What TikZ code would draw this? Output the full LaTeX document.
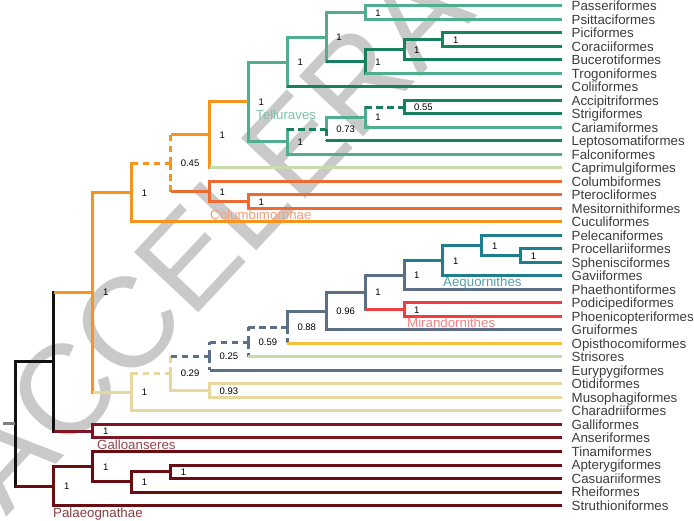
\documentclass[tikz,border=0pt]{standalone}
\usepackage{fontspec}
\setmainfont{Liberation Sans}
\usetikzlibrary{calc}
\definecolor{tL}{HTML}{4FAE8E}
\definecolor{tD}{HTML}{17805C}
\definecolor{orC}{HTML}{F7941E}
\definecolor{roC}{HTML}{EB6B32}
\definecolor{cgC}{HTML}{C8DBAA}
\definecolor{tbC}{HTML}{1E7E8E}
\definecolor{slC}{HTML}{5B6F86}
\definecolor{rdC}{HTML}{EE3E3E}
\definecolor{ylC}{HTML}{F6C143}
\definecolor{tnC}{HTML}{E8D8A0}
\definecolor{gaC}{HTML}{7E1522}
\definecolor{paC}{HTML}{6A0C12}
\definecolor{bkC}{HTML}{111111}
\definecolor{tipgray}{HTML}{3C3C3C}
\definecolor{wmC}{HTML}{C9C9C9}
\newcommand\hb[3]{\draw[hl,#1] (#2 |- #3) -- (#3);}
\newcommand\vb[3]{\draw[vl,#1] (#2) -- (#2 |- #3);}
\newcommand\sv[2]{\node[sup] (s#1) at ($(#1)+(10,3.4)$) {#2};}
\begin{document}
\begin{tikzpicture}[x=1pt,y=-1pt,
  hl/.style={line width=3pt},
  vl/.style={line width=3pt, line cap=rect},
  dsh/.style={dash pattern=on 6.5pt off 4.5pt, line cap=butt},
  tip/.style={anchor=base west, font=\fontsize{13.3}{14}\selectfont, text=tipgray, inner sep=0pt},
  sup/.style={anchor=base west, font=\fontsize{9.5}{10}\selectfont, text=black, inner sep=0pt},
  clade/.style={anchor=base west, font=\fontsize{13.3}{14}\selectfont, inner sep=0pt}]
\useasboundingbox (0,0) rectangle (694,521);
% watermark
\begin{scope}
\clip (0,0) rectangle (694,521);
\node[anchor=base west, rotate=46.8, inner sep=0pt, text=wmC, font=\fontsize{128}{128}\selectfont] (wm) at (6,518) {ACCELERA};
\end{scope}
% tips
\foreach \n [count=\i from 0] in {Passeriformes,Psittaciformes,Piciformes,Coraciiformes,Bucerotiformes,Trogoniformes,Coliiformes,Accipitriformes,Strigiformes,Cariamiformes,Leptosomatiformes,Falconiformes,Caprimulgiformes,Columbiformes,Pterocliformes,Mesitornithiformes,Cuculiformes,Pelecaniformes,Procellariiformes,Sphenisciformes,Gaviiformes,Phaethontiformes,Podicipediformes,Phoenicopteriformes,Gruiformes,Opisthocomiformes,Strisores,Eurypygiformes,Otidiformes,Musophagiformes,Charadriiformes,Galliformes,Anseriformes,Tinamiformes,Apterygiformes,Casuariiformes,Rheiformes,Struthioniformes}{
  \coordinate (e\i) at (562,{6+13.5*\i});
  \node[tip] (l\i) at (571.5,{10.7+13.5*\i}) {\n};
}
% internal nodes
\coordinate (nA) at (365.1,12.75);
\coordinate (nB) at (442.9,39.75);
\coordinate (nC) at (404.0,49.875);
\coordinate (nD) at (365.1,61.6875);
\coordinate (nE) at (326.2,37.22);
\coordinate (nF) at (287.3,62.11);
\coordinate (nG) at (404.0,107.25);
\coordinate (nH) at (365.1,117.375);
\coordinate (nI) at (326.2,129.19);
\coordinate (nJ) at (287.3,141.84);
\coordinate (nK) at (248.4,101.98);
\coordinate (nL) at (209.5,134.99);
\coordinate (nM) at (248.4,201.75);
\coordinate (nN) at (209.5,191.625);
\coordinate (nO) at (170.6,163.31);
\coordinate (nP) at (131.7,192.65);
\coordinate (nQ) at (520.7,255.75);
\coordinate (nR) at (481.8,245.625);
\coordinate (nS) at (442.9,260.81);
\coordinate (nT) at (404.0,275.16);
\coordinate (nU) at (404.0,309.75);
\coordinate (nV) at (365.1,292.45);
\coordinate (nW) at (326.2,311.23);
\coordinate (nX) at (287.3,327.36);
\coordinate (nY) at (248.4,342.18);
\coordinate (nZ) at (209.5,356.34);
\coordinate (nAA) at (209.5,390.75);
\coordinate (nAB) at (170.6,373.55);
\coordinate (nAC) at (131.7,392.27);
\coordinate (nAD) at (92.8,292.46);
\coordinate (nAE) at (92.8,431.25);
\coordinate (nAF) at (53.9,361.86);
\coordinate (nAG) at (170.6,471.75);
\coordinate (nAH) at (131.7,481.875);
\coordinate (nAI) at (92.8,466.69);
\coordinate (nAJ) at (53.9,486.09);
\coordinate (nAK) at (15,423.98);
\coordinate (rs) at (3,423.98);
% Telluraves
\vb{tL}{nA}{e0} \vb{tL}{nA}{e1} \hb{tL}{nA}{e0} \hb{tL}{nA}{e1}
\vb{tD}{nB}{e2} \vb{tD}{nB}{e3} \hb{tD}{nB}{e2} \hb{tD}{nB}{e3}
\vb{tD}{nC}{nB} \vb{tD}{nC}{e4} \hb{tD}{nC}{nB} \hb{tD}{nC}{e4}
\vb{tD}{nD}{nC} \vb{tD}{nD}{e5} \hb{tD}{nD}{nC} \hb{tL}{nD}{e5}
\vb{tL}{nE}{nA} \vb{tL}{nE}{nD} \hb{tL}{nE}{nA} \hb{tD}{nE}{nD}
\vb{tL}{nF}{nE} \vb{tL}{nF}{e6} \hb{tL}{nF}{nE} \hb{tD}{nF}{e6}
\vb{tD}{nG}{e7} \vb{tD}{nG}{e8} \hb{tD}{nG}{e7} \hb{tD}{nG}{e8}
\vb{tL}{nH}{nG} \vb{tL}{nH}{e9} \hb{tD,dsh}{nH}{nG} \hb{tL}{nH}{e9}
\vb{tL}{nI}{nH} \vb{tD,dsh}{nI}{e10} \hb{tL}{nI}{nH} \hb{tD}{nI}{e10}
\vb{tL}{nJ}{nI} \vb{tL}{nJ}{e11} \hb{tD,dsh}{nJ}{nI} \hb{tL}{nJ}{e11}
\vb{tL}{nK}{nF} \vb{tL}{nK}{nJ} \hb{tL}{nK}{nF} \hb{tL}{nK}{nJ}
\vb{orC}{nL}{nK} \vb{orC}{nL}{e12} \hb{orC}{nL}{nK} \hb{cgC}{nL}{e12}
% Columbimorphae
\vb{roC}{nM}{e14} \vb{roC}{nM}{e15} \hb{roC}{nM}{e14} \hb{roC}{nM}{e15}
\vb{roC}{nN}{e13} \vb{roC}{nN}{nM} \hb{roC}{nN}{e13} \hb{roC}{nN}{nM}
\vb{orC,dsh}{nO}{nL} \vb{orC,dsh}{nO}{nN} \hb{orC}{nO}{nL} \hb{roC}{nO}{nN}
\vb{orC}{nP}{nO} \vb{orC}{nP}{e16} \hb{orC,dsh}{nP}{nO} \hb{orC}{nP}{e16}
% lower Neoaves
\vb{tbC}{nQ}{e18} \vb{tbC}{nQ}{e19} \hb{tbC}{nQ}{e18} \hb{tbC}{nQ}{e19}
\vb{tbC}{nR}{e17} \vb{tbC}{nR}{nQ} \hb{tbC}{nR}{e17} \hb{tbC}{nR}{nQ}
\vb{tbC}{nS}{nR} \vb{tbC}{nS}{e20} \hb{tbC}{nS}{nR} \hb{tbC}{nS}{e20}
\vb{slC}{nT}{nS} \vb{slC}{nT}{e21} \hb{tbC}{nT}{nS} \hb{slC}{nT}{e21}
\vb{rdC}{nU}{e22} \vb{rdC}{nU}{e23} \hb{rdC}{nU}{e22} \hb{rdC}{nU}{e23}
\vb{slC}{nV}{nT} \vb{slC}{nV}{nU} \hb{slC}{nV}{nT} \hb{rdC}{nV}{nU}
\vb{slC}{nW}{nV} \vb{slC}{nW}{e24} \hb{slC}{nW}{nV} \hb{slC}{nW}{e24}
\vb{slC}{nX}{nW} \vb{slC,dsh}{nX}{e25} \hb{slC}{nX}{nW} \hb{ylC}{nX}{e25}
\vb{slC,dsh}{nY}{nX} \vb{slC,dsh}{nY}{e26} \hb{slC,dsh}{nY}{nX} \hb{cgC}{nY}{e26}
\vb{slC,dsh}{nZ}{nY} \vb{slC,dsh}{nZ}{e27} \hb{slC,dsh}{nZ}{nY} \hb{slC}{nZ}{e27}
\vb{tnC}{nAA}{e28} \vb{tnC}{nAA}{e29} \hb{tnC}{nAA}{e28} \hb{tnC}{nAA}{e29}
\vb{tnC,dsh}{nAB}{nZ} \vb{tnC}{nAB}{nAA} \hb{slC,dsh}{nAB}{nZ} \hb{tnC}{nAB}{nAA}
\vb{tnC}{nAC}{nAB} \vb{tnC}{nAC}{e30} \hb{tnC,dsh}{nAC}{nAB} \hb{tnC}{nAC}{e30}
\vb{orC}{nAD}{nP} \vb{orC}{nAD}{nAC} \hb{orC}{nAD}{nP} \hb{tnC}{nAD}{nAC}
% Galloanserae
\vb{gaC}{nAE}{e31} \vb{gaC}{nAE}{e32} \hb{gaC}{nAE}{e31} \hb{gaC}{nAE}{e32}
\vb{bkC}{nAF}{nAD} \vb{bkC}{nAF}{nAE} \hb{orC}{nAF}{nAD} \hb{gaC}{nAF}{nAE}
% Palaeognathae
\vb{paC}{nAG}{e34} \vb{paC}{nAG}{e35} \hb{paC}{nAG}{e34} \hb{paC}{nAG}{e35}
\vb{paC}{nAH}{nAG} \vb{paC}{nAH}{e36} \hb{paC}{nAH}{nAG} \hb{paC}{nAH}{e36}
\vb{paC}{nAI}{e33} \vb{paC}{nAI}{nAH} \hb{paC}{nAI}{e33} \hb{paC}{nAI}{nAH}
\vb{paC}{nAJ}{nAI} \vb{paC}{nAJ}{e37} \hb{paC}{nAJ}{nAI} \hb{paC}{nAJ}{e37}
% root
\vb{bkC}{nAK}{nAF} \vb{bkC}{nAK}{nAJ} \hb{bkC}{nAK}{nAF} \hb{paC}{nAK}{nAJ}
\draw[hl,gray] (rs) -- (nAK);
% support values
\sv{nA}{1} \sv{nB}{1} \sv{nC}{1} \sv{nD}{1} \sv{nE}{1} \sv{nF}{1}
\sv{nG}{0.55} \sv{nH}{1} \sv{nI}{0.73} \sv{nJ}{1} \sv{nK}{1} \sv{nL}{1}
\sv{nM}{1} \sv{nN}{1} \sv{nO}{0.45} \sv{nP}{1}
\sv{nQ}{1} \sv{nR}{1} \sv{nS}{1} \sv{nT}{1} \sv{nU}{1} \sv{nV}{1}
\sv{nW}{0.96} \sv{nX}{0.88} \sv{nY}{0.59} \sv{nZ}{0.25} \sv{nAA}{0.93} \sv{nAB}{0.29}
\sv{nAC}{1} \sv{nAD}{1} \sv{nAE}{1} \sv{nAG}{1} \sv{nAH}{1} \sv{nAI}{1} \sv{nAJ}{1}
% clade labels
\node[clade, text=tL!75!white] (cTel) at (256,119.7) {Telluraves};
\node[clade, text=roC!65!white] (cCol) at (210,219.7) {Columbimorphae};
\node[clade, text=tbC!75!white] (cAeq) at (443,286.7) {Aequornithes};
\node[clade, text=rdC!65!white] (cMir) at (407,327.7) {Mirandornithes};
\node[clade, text=gaC!80!white] (cGal) at (97,449.7) {Galloanseres};
\node[clade, text=paC!80!white] (cPal) at (53,517.7) {Palaeognathae};
\end{tikzpicture}
\end{document}
